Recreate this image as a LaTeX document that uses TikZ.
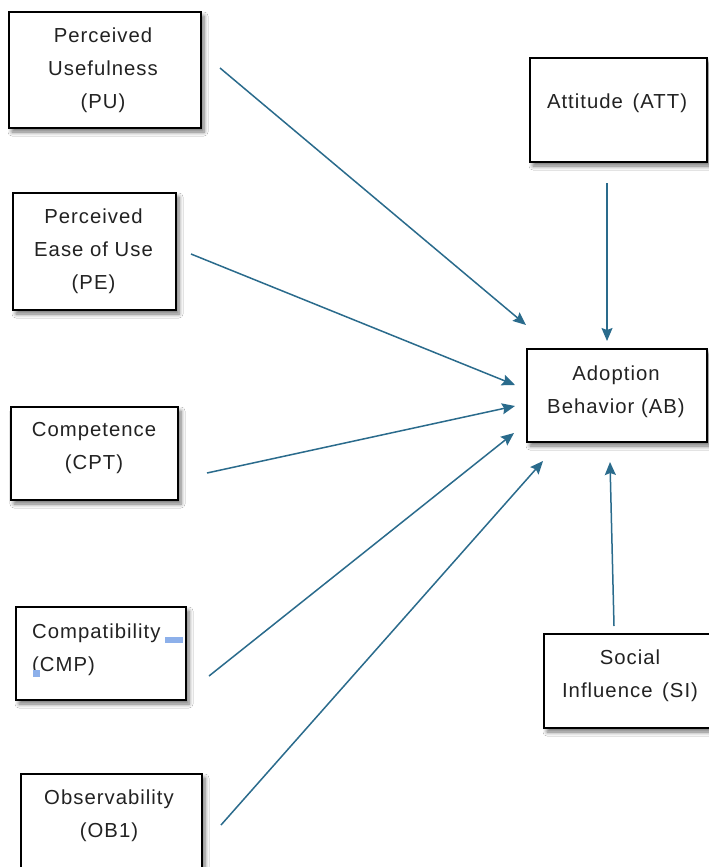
\documentclass[tikz,border=0pt]{standalone}
\usepackage{fontspec}
\setmainfont[LetterSpace=5]{Liberation Sans}
\usetikzlibrary{arrows.meta,shadows.blur}
\definecolor{arr}{HTML}{2A6B8C}
\definecolor{txtc}{HTML}{222222}
\definecolor{selblue}{HTML}{8DB0EA}
\begin{document}
\begin{tikzpicture}[x=1pt,y=-1pt,
  box/.style={draw=black,line width=1.4pt,fill=white,inner sep=0pt,
    blur shadow={shadow xshift=3pt,shadow yshift=-4pt,shadow blur radius=4pt,shadow blur steps=6,shadow opacity=55}},
  txt/.style={font=\fontsize{20.3}{33}\selectfont,text=txtc,align=center,inner sep=0pt},
  con/.style={draw=arr,line width=1.5pt,-{Stealth[length=13pt,width=11pt,inset=2pt]}}]
\clip (0,0) rectangle (709,867);
\fill[white] (0,0) rectangle (709,867);
% boxes
\node[box,minimum width=192pt,minimum height=116pt] (pubox) at (105,70) {};
\node[box,minimum width=163pt,minimum height=117pt] (pebox) at (94.5,251.5) {};
\node[box,minimum width=167pt,minimum height=93pt] (cptbox) at (94.5,453.5) {};
\node[box,minimum width=170pt,minimum height=93pt] (cmpbox) at (101,653.5) {};
\node[box,minimum width=181pt,minimum height=126pt] (obbox) at (111.5,837) {};
\node[box,minimum width=177pt,minimum height=104pt] (attbox) at (618.5,110) {};
\node[box,minimum width=180pt,minimum height=93pt] (abbox) at (617,395.5) {};
\node[box,minimum width=172pt,minimum height=94pt] (sibox) at (630,681) {};
% texts
\node[txt] (pu) at (103,70) {Perceived\\Usefulness\\(PU)};
\node[txt] (pe) at (93.5,251) {Perceived\\Ease of Use\\(PE)};
\node[txt] (cpt) at (94,448.5) {Competence\\(CPT)};
\node[txt,align=left,anchor=west] (cmp) at (32,649.5) {Compatibility\\(CMP)};
\node[txt] (ob) at (109,815.5) {Observability\\(OB1)};
\node[txt] (att) at (617,103) {Attitude\hspace{3pt} (ATT)};
\node[txt] (ab) at (616,391.5) {Adoption\\Behavior (AB)};
\node[txt] (si) at (630,676) {Social\\Influence\hspace{3pt} (SI)};
% selection marks
\fill[selblue] (165,637) rectangle (183,643);
\fill[selblue] (33,670) rectangle (40,677);
% connector end points
\coordinate (pus) at (220,68);   \coordinate (pue) at (526,325);
\coordinate (pes) at (191,254);  \coordinate (pee) at (515,385);
\coordinate (cpts) at (207,473); \coordinate (cpte) at (515,406);
\coordinate (cmps) at (209,676); \coordinate (cmpe) at (514,433);
\coordinate (obs) at (221,825);  \coordinate (obe) at (543,461);
\coordinate (atts) at (607,183); \coordinate (atte) at (607,341);
\coordinate (sis) at (614,626);  \coordinate (sie) at (610,462);
\draw[con] (pus) -- (pue);
\draw[con] (pes) -- (pee);
\draw[con] (cpts) -- (cpte);
\draw[con] (cmps) -- (cmpe);
\draw[con] (obs) -- (obe);
\draw[con] (atts) -- (atte);
\draw[con] (sis) -- (sie);
\end{tikzpicture}
\end{document}
